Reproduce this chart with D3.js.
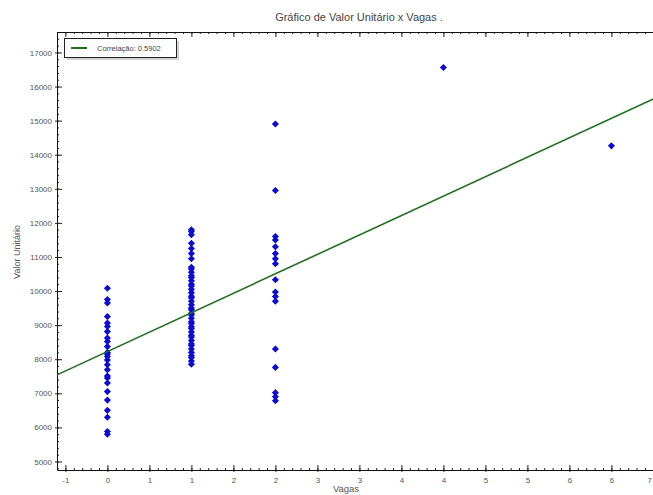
<!DOCTYPE html>
<html>
<head>
<meta charset="utf-8">
<script src="https://cdn.jsdelivr.net/npm/d3@7"></script>
<style>
  body { margin: 0; background: #fff; }
  svg { display: block; font-family: "Liberation Sans", Arial, sans-serif; }
</style>
</head>
<body>
<svg id="chart"></svg>
<script>
// dados
const valoresVaga0 = [10080, 9750, 9650, 9250, 9060, 8960, 8810, 8620, 8520, 8370, 8200, 8150, 8080,
    7980, 7840, 7690, 7510, 7450, 7300, 7050, 6800, 6500, 6300, 5880, 5800];
const valoresVaga1 = [11800, 11750, 11650, 11400, 11250, 11100, 10950, 10700, 10650, 10550, 10450,
    10400, 10300, 10200, 10150, 10050, 9950, 9850, 9800, 9700, 9600, 9500, 9450, 9350, 9300, 9200,
    9100, 9050, 8950, 8900, 8800, 8700, 8650, 8550, 8450, 8400, 8300, 8200, 8100, 8050, 7950, 7850];
const valoresVaga2 = [14900, 12950, 11600, 11500, 11300, 11100, 10950, 10800, 10330, 9970, 9840,
    9700, 8300, 7760, 7020, 6900, 6780];
const valoresVaga4 = [16560];
const valoresVaga6 = [14260];

const intercepto = 8225;
const inclinacao = 1140;
const correlacao = "0.5902";

const xTicks = [-0.5, 0, 0.5, 1, 1.5, 2, 2.5, 3, 3.5, 4, 4.5, 5, 5.5, 6, 6.5];
const xTickLabels = ["-1", "0", "1", "1", "2", "2", "3", "3", "4", "4", "5", "5", "6", "6", "7"];
const yTicks = [5000, 6000, 7000, 8000, 9000, 10000, 11000, 12000, 13000, 14000, 15000, 16000, 17000];

const WIDTH = 653;
const HEIGHT = 495;
const LEFT = 57;
const TOP = 32;
const BOTTOM = 470;
const PX_PER_UNIT = 84;

const pontos = [
    ...valoresVaga0.map(v => ({ x: 0, y: v })),
    ...valoresVaga1.map(v => ({ x: 1, y: v })),
    ...valoresVaga2.map(v => ({ x: 2, y: v })),
    ...valoresVaga4.map(v => ({ x: 4, y: v })),
    ...valoresVaga6.map(v => ({ x: 6, y: v }))
];

const xDomain = [-0.6, 6.6];
const xScale = d3.scaleLinear().domain(xDomain)
    .range([LEFT, LEFT + (xDomain[1] - xDomain[0]) * PX_PER_UNIT]);
const yScale = d3.scaleLinear().domain([4750, 17600]).range([BOTTOM, TOP]);

const svg = d3.select('#chart').attr('width', WIDTH).attr('height', HEIGHT);

// titulo
svg.append('text')
    .attr('x', 359).attr('y', 21)
    .attr('text-anchor', 'middle')
    .attr('font-size', 11).attr('fill', '#444')
    .text('Gráfico de Valor Unitário x Vagas .');

// eixos menores
const minorX = d3.range(-0.6, 6.61, 0.1).map(d => Math.round(d * 10) / 10);
const minorY = d3.range(4800, 17601, 200);

svg.append('g')
    .attr('transform', `translate(0,${BOTTOM})`)
    .call(d3.axisBottom(xScale).tickValues(minorX).tickSizeInner(-2).tickSizeOuter(0).tickFormat(''))
    .call(g => g.select('.domain').remove());
svg.append('g')
    .attr('transform', `translate(0,${TOP})`)
    .call(d3.axisTop(xScale).tickValues(minorX).tickSizeInner(-2).tickSizeOuter(0).tickFormat(''))
    .call(g => g.select('.domain').remove());
svg.append('g')
    .attr('transform', `translate(${LEFT},0)`)
    .call(d3.axisLeft(yScale).tickValues(minorY).tickSizeInner(-2).tickSizeOuter(0).tickFormat(''))
    .call(g => g.select('.domain').remove());

// eixo x (baixo)
const xAxis = svg.append('g')
    .attr('transform', `translate(0,${BOTTOM})`)
    .call(d3.axisBottom(xScale).tickValues(xTicks).tickSizeInner(-5).tickSizeOuter(0)
        .tickPadding(7).tickFormat((d, i) => xTickLabels[i]));
xAxis.selectAll('.tick line').attr('y1', 2);
// último rótulo encostado na borda direita
xAxis.selectAll('.tick text').filter((d, i) => i === xTicks.length - 1)
    .attr('text-anchor', 'end').attr('dx', -2);

// eixo x (topo)
const xAxisTop = svg.append('g')
    .attr('transform', `translate(0,${TOP})`)
    .call(d3.axisTop(xScale).tickValues(xTicks).tickSizeInner(-5).tickSizeOuter(0).tickFormat(''));

// eixo y
const yAxis = svg.append('g')
    .attr('transform', `translate(${LEFT},0)`)
    .call(d3.axisLeft(yScale).tickValues(yTicks).tickSizeInner(-5).tickSizeOuter(0)
        .tickPadding(5).tickFormat(d3.format('d')));
yAxis.selectAll('.tick line').attr('x1', -2);

[xAxis, xAxisTop, yAxis].forEach(g => {
    g.selectAll('text').attr('font-size', 8).attr('fill', '#555').attr('font-family', null);
});
svg.selectAll('.domain').attr('stroke', '#111');
svg.selectAll('.tick line').attr('stroke', '#222');

// pontos
svg.append('g')
    .selectAll('path')
    .data(pontos)
    .join('path')
    .attr('d', d3.symbol(d3.symbolSquare, 25))
    .attr('transform', d => `translate(${xScale(d.x)},${yScale(d.y)}) rotate(45)`)
    .attr('fill', '#0b0bd6');

// reta de regressão
const reta = d3.line().x(d => xScale(d)).y(d => yScale(intercepto + inclinacao * d));
svg.append('path')
    .datum(xDomain)
    .attr('d', reta)
    .attr('fill', 'none')
    .attr('stroke', '#1f701f')
    .attr('stroke-width', 1.6);

// legenda
svg.append('rect')
    .attr('x', 67).attr('y', 41).attr('width', 112).attr('height', 19)
    .attr('fill', '#d4d4d4');
svg.append('rect')
    .attr('x', 64.5).attr('y', 38.5).attr('width', 112).attr('height', 19)
    .attr('fill', '#fff').attr('stroke', '#222');
svg.append('line')
    .attr('x1', 71).attr('x2', 87).attr('y1', 48).attr('y2', 48)
    .attr('stroke', '#1f701f').attr('stroke-width', 2);
svg.append('text')
    .attr('x', 97).attr('y', 51)
    .attr('font-size', 7.5).attr('fill', '#444')
    .text(`Correlação: ${correlacao}`);

// rótulos dos eixos
svg.append('text')
    .attr('x', 346).attr('y', 492)
    .attr('text-anchor', 'middle')
    .attr('font-size', 9.5).attr('fill', '#555')
    .text('Vagas');
svg.append('text')
    .attr('transform', 'translate(20,252) rotate(-90)')
    .attr('text-anchor', 'middle')
    .attr('font-size', 9).attr('fill', '#555')
    .text('Valor Unitário');
</script>
</body>
</html>
